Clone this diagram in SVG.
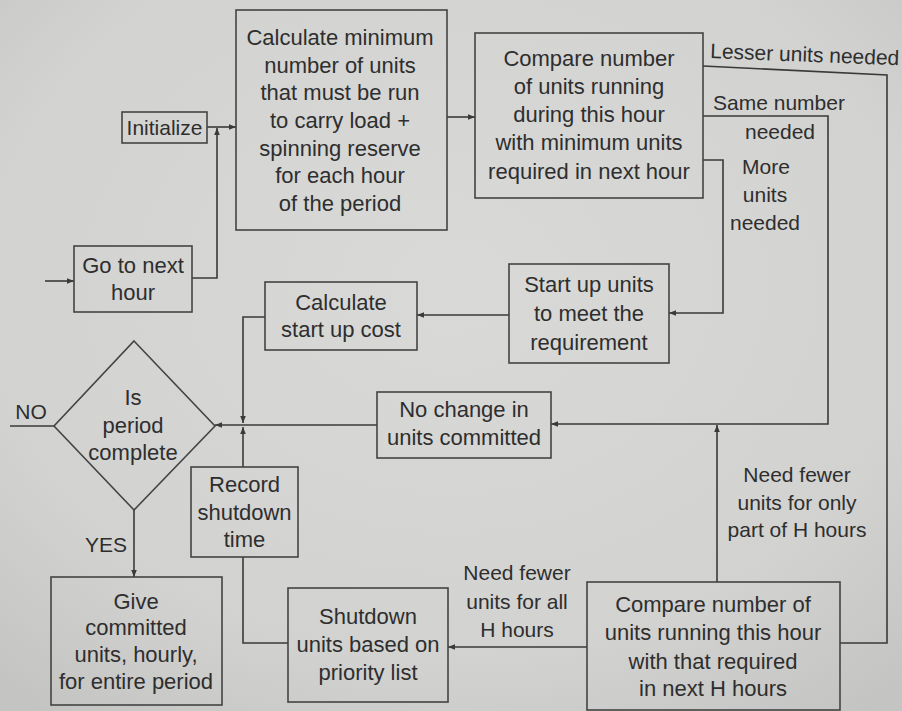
<svg xmlns="http://www.w3.org/2000/svg" width="902" height="711" viewBox="0 0 902 711">
  <defs>
    <radialGradient id="paper" cx="0.5" cy="0.4" r="0.75">
      <stop offset="0" stop-color="#d9d9d7"/>
      <stop offset="0.7" stop-color="#d2d2d0"/>
      <stop offset="1" stop-color="#c4c4c2"/>
    </radialGradient>
    <marker id="arr" viewBox="0 0 10 10" refX="10" refY="5" markerWidth="9" markerHeight="7" markerUnits="userSpaceOnUse" orient="auto">
      <path d="M0,1 L10,5 L0,9 Z" fill="#3a3a3a"/>
    </marker>
    <style>
      .box { fill: none; stroke: #444; stroke-width: 1.6; }
      .t { font-family: "Liberation Sans", Arial, sans-serif; font-size: 22px; fill: #2e2e2e; text-anchor: middle; }
      .lbl { font-family: "Liberation Sans", Arial, sans-serif; font-size: 21px; fill: #2e2e2e; text-anchor: middle; }
      .ln { fill: none; stroke: #3a3a3a; stroke-width: 1.6; }
      .ar { marker-end: url(#arr); }
    </style>
  </defs>

  <rect width="902" height="711" fill="url(#paper)"/>

  <!-- connectors -->
  <g id="connectors">
    <path class="ln ar" d="M45,281 H74"/>
    <path class="ln ar" d="M192,278 H217 V128"/>
    <path class="ln ar" d="M207,127 H236"/>
    <path class="ln ar" d="M447,117 H475"/>
    <path class="ln" d="M703,66 L887,75 V643 H840"/>
    <path class="ln ar" d="M703,116 H828 V424 H551"/>
    <path class="ln ar" d="M703,160 H723 V313 H669"/>
    <path class="ln ar" d="M509,315 H417"/>
    <path class="ln ar" d="M265,317 H243 V423"/>
    <path class="ln ar" d="M377,425 H215"/>
    <path class="ln ar" d="M243,467 V427"/>
    <path class="ln" d="M10,426 H54"/>
    <path class="ln ar" d="M134,510 V577"/>
    <path class="ln" d="M243,557 V643 H288"/>
    <path class="ln ar" d="M587,647 H448"/>
    <path class="ln ar" d="M717,582 V425"/>

    <text class="lbl" x="710" y="58" style="text-anchor:start" transform="rotate(2.2 710 58)">Lesser units needed</text>
    <text class="lbl" x="779" y="110">Same number</text>
    <text class="lbl" x="780" y="139">needed</text>
    <text class="lbl" x="766" y="174">More</text>
    <text class="lbl" x="765" y="202">units</text>
    <text class="lbl" x="765" y="230">needed</text>
    <text class="lbl" x="797" y="482">Need fewer</text>
    <text class="lbl" x="797" y="510">units for only</text>
    <text class="lbl" x="797" y="537">part of H hours</text>
    <text class="lbl" x="517" y="580">Need fewer</text>
    <text class="lbl" x="517" y="609">units for all</text>
    <text class="lbl" x="517" y="637">H hours</text>
    <text class="lbl" x="31" y="419">NO</text>
    <text class="lbl" x="106" y="552">YES</text>
  </g>

  <g id="initialize">
    <rect class="box" x="122" y="112" width="85" height="31"/>
    <text class="t" x="164.5" y="135" style="font-size:21px">Initialize</text>
  </g>

  <g id="calc-minimum">
    <rect class="box" x="236" y="10" width="211" height="220"/>
    <text class="t" x="340" y="45">Calculate minimum</text>
    <text class="t" x="340" y="73">number of units</text>
    <text class="t" x="340" y="100">that must be run</text>
    <text class="t" x="340" y="128">to carry load +</text>
    <text class="t" x="340" y="156">spinning reserve</text>
    <text class="t" x="340" y="183">for each hour</text>
    <text class="t" x="340" y="211">of the period</text>
  </g>

  <g id="compare-hour">
    <rect class="box" x="475" y="33" width="228" height="165"/>
    <text class="t" x="589" y="66">Compare number</text>
    <text class="t" x="589" y="94">of units running</text>
    <text class="t" x="589" y="122">during this hour</text>
    <text class="t" x="589" y="150">with minimum units</text>
    <text class="t" x="589" y="179">required in next hour</text>
  </g>

  <g id="next-hour">
    <rect class="box" x="74" y="246" width="118" height="66"/>
    <text class="t" x="133" y="273">Go to next</text>
    <text class="t" x="133" y="300">hour</text>
  </g>

  <g id="startup-cost">
    <rect class="box" x="265" y="282" width="152" height="68"/>
    <text class="t" x="341" y="310">Calculate</text>
    <text class="t" x="341" y="337">start up cost</text>
  </g>

  <g id="startup-units">
    <rect class="box" x="509" y="264" width="160" height="99"/>
    <text class="t" x="589" y="292">Start up units</text>
    <text class="t" x="589" y="321">to meet the</text>
    <text class="t" x="589" y="350">requirement</text>
  </g>

  <g id="no-change">
    <rect class="box" x="377" y="392" width="174" height="66"/>
    <text class="t" x="464" y="417">No change in</text>
    <text class="t" x="464" y="445">units committed</text>
  </g>

  <g id="period-complete">
    <polygon class="box" points="134,341 215,426 134,510 54,426"/>
    <text class="t" x="133" y="405">Is</text>
    <text class="t" x="133" y="433">period</text>
    <text class="t" x="133" y="460">complete</text>
  </g>

  <g id="record-shutdown">
    <rect class="box" x="191" y="467" width="107" height="90"/>
    <text class="t" x="244.5" y="492">Record</text>
    <text class="t" x="244.5" y="520">shutdown</text>
    <text class="t" x="244.5" y="547">time</text>
  </g>

  <g id="give-committed">
    <rect class="box" x="51" y="577" width="171" height="128"/>
    <text class="t" x="136" y="609">Give</text>
    <text class="t" x="136" y="635">committed</text>
    <text class="t" x="136" y="662">units, hourly,</text>
    <text class="t" x="136" y="689">for entire period</text>
  </g>

  <g id="shutdown-units">
    <rect class="box" x="288" y="588" width="160" height="114"/>
    <text class="t" x="368" y="624">Shutdown</text>
    <text class="t" x="368" y="652">units based on</text>
    <text class="t" x="368" y="680">priority list</text>
  </g>

  <g id="compare-h-hours">
    <rect class="box" x="587" y="582" width="253" height="128"/>
    <text class="t" x="713" y="612">Compare number of</text>
    <text class="t" x="713" y="640">units running this hour</text>
    <text class="t" x="713" y="669">with that required</text>
    <text class="t" x="713" y="696">in next H hours</text>
  </g>
</svg>
